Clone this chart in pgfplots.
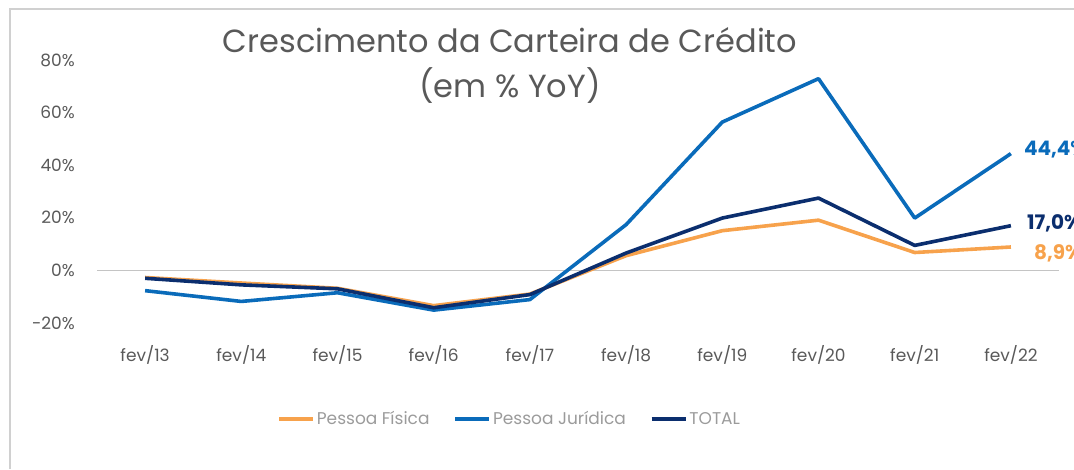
\documentclass[border=0pt]{standalone}
\usepackage{fontspec}
\setmainfont{Poppins}
\usepackage{pgfplots}
\pgfplotsset{compat=1.18}
\definecolor{orangePF}{HTML}{F7A24C}
\definecolor{bluePJ}{HTML}{0A6BBA}
\definecolor{navyT}{HTML}{0B2E6E}
\definecolor{textgray}{HTML}{595959}
\definecolor{legendgray}{HTML}{9B9B9B}
\definecolor{linegray}{HTML}{C4C4C4}
\definecolor{framegray}{HTML}{D0D0D0}
\begin{document}
\begin{tikzpicture}[x=1pt,y=1pt]
\useasboundingbox (0,0) rectangle (1074,469);
% frame of the screenshot
\draw[framegray,line width=1.6pt] (10,0) -- (10,460) -- (1074,460);
\begin{axis}[
  at={(97pt,146pt)}, anchor=south west,
  scale only axis, width=962pt, height=263pt,
  xmin=-0.5, xmax=9.5, ymin=-20, ymax=80,
  xtick={0,...,9},
  xticklabels={fev/13,fev/14,fev/15,fev/16,fev/17,fev/18,fev/19,fev/20,fev/21,fev/22},
  ytick={-20,0,20,40,60,80},
  yticklabels={-20\%,0\%,20\%,40\%,60\%,80\%},
  axis line style={draw=none}, tick style={draw=none},
  ticklabel style={font=\fontsize{17}{20}\selectfont, text=textgray},
  yticklabel style={inner sep=0pt, xshift=-22pt},
  xticklabel style={inner sep=0pt, yshift=-22pt},
  clip=false,
  legend style={at={(axis description cs:0.429,-0.365)}, anchor=center,
    draw=none, fill=none, legend columns=3,
    font=\fontsize{17}{20}\selectfont, text=legendgray,
    /tikz/every even column/.append style={column sep=22pt},
    inner sep=0pt, cells={anchor=west}},
  legend image code/.code={\draw[#1,line width=3.5pt] (0pt,0pt) -- (34pt,0pt);},
  every axis plot/.append style={line width=3.6pt, line join=round},
]
\draw[linegray,line width=1.5pt] (axis cs:-0.5,0) -- (axis cs:9.5,0);
\addplot[orangePF] coordinates {(0,-2.7) (1,-4.8) (2,-6.8) (3,-13.4) (4,-9.0) (5,5.6) (6,15.1) (7,19.1) (8,6.8) (9,8.9)};
\addlegendentry{Pessoa Física}
\addplot[bluePJ] coordinates {(0,-7.7) (1,-11.8) (2,-8.5) (3,-15.1) (4,-11.1) (5,17.4) (6,56.4) (7,72.9) (8,19.9) (9,44.4)};
\addlegendentry{Pessoa Jurídica}
\addplot[navyT] coordinates {(0,-3.0) (1,-5.5) (2,-7.0) (3,-14.2) (4,-9.2) (5,6.6) (6,19.9) (7,27.5) (8,9.5) (9,17.0)};
\addlegendentry{TOTAL}
\node[anchor=west, inner sep=0pt, text=bluePJ, font=\fontsize{20}{22}\selectfont\bfseries] at (axis cs:9,44.4) [xshift=13pt, yshift=4pt] {44,4\%};
\node[anchor=west, inner sep=0pt, text=navyT, font=\fontsize{20}{22}\selectfont\bfseries] at (axis cs:9,17.0) [xshift=16pt, yshift=2pt] {17,0\%};
\node[anchor=west, inner sep=0pt, text=orangePF, font=\fontsize{20}{22}\selectfont\bfseries] at (axis cs:9,8.9) [xshift=23pt, yshift=-6pt] {8,9\%};
\end{axis}
\node[text=textgray, font=\fontsize{32}{36}\selectfont, anchor=base, inner sep=0pt] at (510,416) {Crescimento da Carteira de Crédito};
\node[text=textgray, font=\fontsize{32}{36}\selectfont, anchor=base, inner sep=0pt] at (510,371) {(em \% YoY)};
\end{tikzpicture}
\end{document}
